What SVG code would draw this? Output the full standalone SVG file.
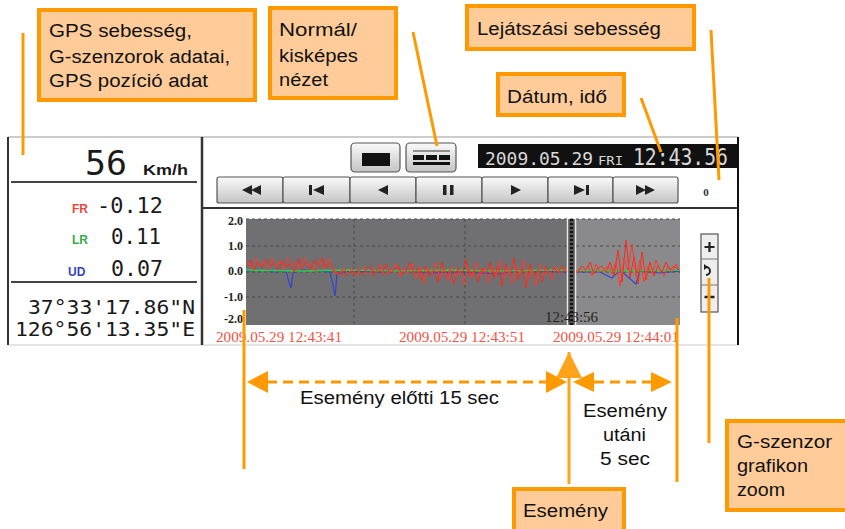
<svg xmlns="http://www.w3.org/2000/svg" width="845" height="529" viewBox="0 0 845 529">
<style>
.box{fill:#FFCC99;stroke:#FF9900;stroke-width:4}
.lbl{font-family:"Liberation Sans",Arial,sans-serif;font-size:18px;fill:#111}
.con{stroke:#FF9900;stroke-width:3;fill:none}
.dash{stroke:#FF9900;stroke-width:3;fill:none;stroke-dasharray:10 6}
.seg{font-family:"DejaVu Sans Mono",monospace;fill:#1a1a1a}
.btn{fill:url(#bg);stroke:#555;stroke-width:1.2}
.ico{fill:#222}
.ax{font-family:"Liberation Serif",serif;font-weight:bold;font-size:12px;fill:#222}
.xl{font-family:"Liberation Serif",serif;font-size:14px;fill:#f05545}
.grid{stroke:#4a4a4a;stroke-width:1;stroke-dasharray:3 3}
</style>
<defs>
<linearGradient id="bg" x1="0" y1="0" x2="0" y2="1">
<stop offset="0" stop-color="#fafafa"/><stop offset="1" stop-color="#c4c4c4"/>
</linearGradient>
<marker id="up" viewBox="0 0 26 26" refX="26" refY="13" markerWidth="26" markerHeight="26" markerUnits="userSpaceOnUse" orient="auto">
<path d="M0,0 L26,13 L0,26 z" fill="#FFA31A"/>
</marker>
</defs>
<rect width="845" height="529" fill="#fff"/>

<g id="screen">
<rect x="8" y="137" width="730" height="208" fill="#fff"/>
<line x1="8" y1="137" x2="738" y2="137" stroke="#bbb" stroke-width="1.5"/>
<line x1="8" y1="345" x2="738" y2="345" stroke="#ccc" stroke-width="1"/>
<line x1="8" y1="137" x2="8" y2="345" stroke="#333" stroke-width="2"/>
<line x1="202" y1="137" x2="202" y2="345" stroke="#333" stroke-width="2.5"/>
<line x1="738" y1="137" x2="738" y2="345" stroke="#111" stroke-width="2"/>
<line x1="202" y1="208" x2="738" y2="208" stroke="#333" stroke-width="2"/>

<g id="left-panel">
<text class="seg" x="85" y="175" font-size="34" textLength="42" lengthAdjust="spacingAndGlyphs">56</text>
<text x="143" y="175" font-family="Liberation Sans,Arial,sans-serif" font-weight="bold" font-size="15" fill="#1a1a1a" textLength="45" lengthAdjust="spacingAndGlyphs">Km/h</text>
<line x1="11" y1="182" x2="197" y2="182" stroke="#444" stroke-width="2"/>
<text x="72" y="213" font-family="Liberation Sans,Arial,sans-serif" font-weight="bold" font-size="12" fill="#e84a3a">FR</text>
<text class="seg" x="97" y="213" font-size="22" textLength="66" lengthAdjust="spacingAndGlyphs">-0.12</text>
<text x="72" y="244" font-family="Liberation Sans,Arial,sans-serif" font-weight="bold" font-size="12" fill="#3aaa4a">LR</text>
<text class="seg" x="111" y="244" font-size="22" textLength="50" lengthAdjust="spacingAndGlyphs">0.11</text>
<text x="68" y="276" font-family="Liberation Sans,Arial,sans-serif" font-weight="bold" font-size="12" fill="#3344bb">UD</text>
<text class="seg" x="111" y="276" font-size="22" textLength="52" lengthAdjust="spacingAndGlyphs">0.07</text>
<line x1="11" y1="282" x2="197" y2="282" stroke="#444" stroke-width="2"/>
<text class="seg" x="28" y="314" font-size="20" textLength="167" lengthAdjust="spacingAndGlyphs">37°33'17.86"N</text>
<text class="seg" x="15" y="336" font-size="20" textLength="180" lengthAdjust="spacingAndGlyphs">126°56'13.35"E</text>
</g>

<g id="view-buttons">
<rect class="btn" x="351" y="143" width="49" height="29" rx="4"/>
<rect x="362" y="153" width="28" height="13" fill="#111"/>
<rect class="btn" x="406" y="143" width="50" height="29" rx="4"/>
<line x1="413" y1="151" x2="450" y2="151" stroke="#333" stroke-width="1"/>
<rect x="413" y="155" width="11" height="5" fill="#111"/><rect x="426" y="155" width="11" height="5" fill="#111"/><rect x="439" y="155" width="11" height="5" fill="#111"/>
<rect x="413" y="162" width="37" height="3" fill="#111"/>
</g>

<g id="date-display">
<rect x="478" y="144" width="260" height="24" fill="#111"/>
<text x="485" y="165" font-family="DejaVu Sans Mono,monospace" font-size="17" fill="#d8d8d8" textLength="108" lengthAdjust="spacingAndGlyphs">2009.05.29</text>
<text x="598" y="165" font-family="DejaVu Sans Mono,monospace" font-size="13" fill="#d8d8d8" textLength="25" lengthAdjust="spacingAndGlyphs">FRI</text>
<text x="633" y="165" font-family="DejaVu Sans Mono,monospace" font-size="23" fill="#d8d8d8" textLength="95" lengthAdjust="spacingAndGlyphs">12:43.56</text>
</g>

<g id="transport">
<rect class="btn" x="217" y="177" width="66" height="26" rx="2"/>
<rect class="btn" x="283" y="177" width="67" height="26" rx="2"/>
<rect class="btn" x="350" y="177" width="66" height="26" rx="2"/>
<rect class="btn" x="416" y="177" width="66" height="26" rx="2"/>
<rect class="btn" x="482" y="177" width="66" height="26" rx="2"/>
<rect class="btn" x="548" y="177" width="65" height="26" rx="2"/>
<rect class="btn" x="613" y="177" width="65" height="26" rx="2"/>
<path class="ico" d="M242,190 L252,185 L252,195 z M251,190 L261,185 L261,195 z"/>
<path class="ico" d="M309,185 h3 v10 h-3 z M313,190 L324,185 L324,195 z"/>
<path class="ico" d="M378,190 L388,185 L388,195 z"/>
<path class="ico" d="M443,185 h3.5 v10 h-3.5 z M450,185 h3.5 v10 h-3.5 z"/>
<path class="ico" d="M511,185 L521,190 L511,195 z"/>
<path class="ico" d="M574,185 L585,190 L574,195 z M586,185 h3 v10 h-3 z"/>
<path class="ico" d="M636,185 L646,190 L636,195 z M645,185 L655,190 L645,195 z"/>
<text x="706" y="196" font-family="Liberation Serif,serif" font-weight="bold" font-size="11" fill="#333" text-anchor="middle">0</text>
</g>

<g id="graph">
<rect x="246" y="219" width="321" height="106" fill="#707072"/>
<rect x="567" y="219" width="113" height="106" fill="#8a8a8c"/>
<line class="grid" x1="246" y1="246" x2="680" y2="246"/>
<line class="grid" x1="246" y1="272" x2="680" y2="272"/>
<line class="grid" x1="246" y1="297" x2="680" y2="297"/>
<line class="grid" x1="354" y1="219" x2="354" y2="325"/>
<line class="grid" x1="465" y1="219" x2="465" y2="325"/>
<line class="grid" x1="246" y1="219" x2="680" y2="219"/>
<text class="ax" x="243" y="225" text-anchor="end">2.0</text>
<text class="ax" x="243" y="250" text-anchor="end">1.0</text>
<text class="ax" x="243" y="275" text-anchor="end">0.0</text>
<text class="ax" x="243" y="301" text-anchor="end">-1.0</text>
<text class="ax" x="243" y="323" text-anchor="end">-2.0</text>
<polyline fill="none" stroke="#3344cc" stroke-width="1.2" points="246,271 260,270 275,272 286,271 289,282 291,288 293,273 300,270 320,271 330,272 333,285 335,296 337,274 350,271 380,272 400,271 430,273 460,272 500,274 520,270 540,271 560,272 600,272 612,278 620,270 636,284 640,271 660,273 680,271"/>
<polyline fill="none" stroke="#33cc44" stroke-width="1.5" points="246,270 300,271 350,270 400,271 450,270 500,271 560,270 620,271 680,270"/>
<polyline fill="none" stroke="#ff2a1a" stroke-width="1" points="246,266 250,260 254,270 258,262 262,268 266,259 270,266 274,263 278,270 282,261 286,267 290,264 294,272 298,259 302,268 306,262 310,270 314,260 318,266 322,258 326,268 330,262 334,272 338,274 342,270 346,276 350,271 354,274 358,269 362,275 366,270 370,266 374,276 378,268 382,273 386,264 390,274 394,270 398,266 402,275 406,271 410,262 414,274 418,268 422,280 426,266 430,276 434,270 438,282 442,262 446,277 450,270 454,284 458,268 462,275 466,259 470,276 474,270 478,282 482,268 486,274 490,262 494,278 498,266 502,286 506,264 510,276 514,258 518,280 522,268 526,288 530,264 534,276 538,270 542,282 546,266 550,274 554,268 558,272 562,266 566,272 570,270 574,268 578,272 582,266 586,270 590,262 594,274 598,268 602,266 606,272 610,262 614,276 618,250 622,282 626,240 630,278 634,256 638,284 642,252 646,280 650,262 654,276 658,266 662,272 666,262 670,270 674,266 678,270"/>
<polyline fill="none" stroke="#ff3a2a" stroke-width="1" points="248,262 252,268 256,258 260,266 264,261 268,270 272,258 276,267 280,260 284,269 288,258 292,266 296,262 300,270 304,257 308,266 312,263 316,271 320,260 324,269 328,258 332,268 336,271 340,276 344,268 348,274 352,268 356,277 360,270 364,266 368,275 372,269 376,272 380,264 384,276 388,268 392,272 396,263 400,277 404,268 408,274 412,264 416,279 420,266 424,284 428,268 432,274 436,262 440,278 444,268 448,281 452,266 456,276 460,270 464,285 468,266 472,278 476,262 480,276 484,268 488,283 492,266 496,276 500,260 504,278 508,268 512,284 516,266 520,274 524,260 528,280 532,268 536,286 540,264 544,276 548,270 552,280 556,266 560,274 564,268 568,272 572,266 576,274 580,268 584,272 588,266 592,276 596,264 600,272 604,270 608,266 612,274 616,262 620,286 624,258 628,270 632,244 636,276 640,260 644,282 648,266 652,274 656,260 660,270 664,276 668,266 672,272 676,264 679,270"/>
<rect x="567" y="219" width="9" height="106" fill="#555"/>
<line x1="567.5" y1="219" x2="567.5" y2="325" stroke="#e6e6e6" stroke-width="1.5"/>
<line x1="575.5" y1="219" x2="575.5" y2="325" stroke="#e6e6e6" stroke-width="1.5"/>
<line x1="571.5" y1="219" x2="571.5" y2="325" stroke="#111" stroke-width="3" stroke-dasharray="2 2"/>
<text x="545" y="322" font-family="Liberation Serif,serif" font-size="14" fill="#222" textLength="53" lengthAdjust="spacingAndGlyphs">12:43:56</text>
<text class="xl" x="216" y="342" textLength="126" lengthAdjust="spacingAndGlyphs">2009.05.29 12:43:41</text>
<text class="xl" x="399" y="342" textLength="126" lengthAdjust="spacingAndGlyphs">2009.05.29 12:43:51</text>
<text class="xl" x="553" y="342" textLength="126" lengthAdjust="spacingAndGlyphs">2009.05.29 12:44:01</text>
</g>

<g id="zoom-control">
<rect x="701" y="234" width="17" height="78" fill="#eee" stroke="#555" stroke-width="1.2"/>
<line x1="701" y1="259" x2="718" y2="259" stroke="#777"/>
<line x1="701" y1="285" x2="718" y2="285" stroke="#777"/>
<path d="M709.5,242 v10 M704.5,247 h10" stroke="#222" stroke-width="2.2"/>
<path d="M706,267 A4,4 0 1 1 706,275" fill="none" stroke="#222" stroke-width="2"/>
<path d="M704,264 L708,267 L704,270 z" fill="#222"/>
<path d="M704.5,297 h10" stroke="#222" stroke-width="2.5"/>
</g>
</g>

<g id="connectors">
<line class="con" x1="23" y1="33" x2="23" y2="155"/>
<line class="con" x1="413" y1="32" x2="437" y2="146"/>
<line class="con" x1="711" y1="30" x2="719" y2="180"/>
<line class="con" x1="641" y1="98" x2="661" y2="152"/>
<line class="con" x1="244" y1="310" x2="244" y2="469"/>
<line class="con" x1="677" y1="318" x2="677" y2="482"/>
<line class="con" x1="709" y1="278" x2="709" y2="443"/>
<line stroke="#FFA31A" stroke-width="3" x1="569" y1="484" x2="569" y2="352" marker-end="url(#up)"/>
<line class="dash" x1="267" y1="382" x2="546" y2="382"/>
<path d="M247,382 L268,371 L268,393 z M567,382 L546,371 L546,393 z" fill="#FF9900"/>
<line class="dash" x1="594" y1="382" x2="652" y2="382"/>
<path d="M573,382 L594,372 L594,392 z M672,382 L651,372 L651,392 z" fill="#FF9900"/>
</g>

<g id="label-gps">
<rect class="box" x="39" y="10" width="216" height="90"/>
<text class="lbl" x="49" y="37" textLength="143" lengthAdjust="spacingAndGlyphs">GPS sebesség,</text>
<text class="lbl" x="49" y="63" textLength="181" lengthAdjust="spacingAndGlyphs">G-szenzorok adatai,</text>
<text class="lbl" x="49" y="87" textLength="159" lengthAdjust="spacingAndGlyphs">GPS pozíció adat</text>
</g>
<g id="label-normal">
<rect class="box" x="270" y="8" width="126" height="90"/>
<text class="lbl" x="279" y="36" textLength="78" lengthAdjust="spacingAndGlyphs">Normál/</text>
<text class="lbl" x="279" y="62" textLength="79" lengthAdjust="spacingAndGlyphs">kisképes</text>
<text class="lbl" x="279" y="86" textLength="49" lengthAdjust="spacingAndGlyphs">nézet</text>
</g>
<g id="label-speed">
<rect class="box" x="467" y="6" width="227" height="43"/>
<text class="lbl" x="477" y="35" textLength="184" lengthAdjust="spacingAndGlyphs">Lejátszási sebesség</text>
</g>
<g id="label-date">
<rect class="box" x="498" y="74" width="126" height="41"/>
<text class="lbl" x="507" y="103" textLength="100" lengthAdjust="spacingAndGlyphs">Dátum, idő</text>
</g>
<g id="label-event">
<rect class="box" x="514" y="489" width="110" height="46"/>
<text class="lbl" x="523" y="517" textLength="85" lengthAdjust="spacingAndGlyphs">Esemény</text>
</g>
<g id="label-zoom">
<rect class="box" x="727" y="421" width="120" height="89"/>
<text class="lbl" x="737" y="448" textLength="95" lengthAdjust="spacingAndGlyphs">G-szenzor</text>
<text class="lbl" x="737" y="472" textLength="71" lengthAdjust="spacingAndGlyphs">grafikon</text>
<text class="lbl" x="737" y="496" textLength="48" lengthAdjust="spacingAndGlyphs">zoom</text>
</g>
<g id="label-before">
<text class="lbl" x="300" y="404" textLength="199" lengthAdjust="spacingAndGlyphs">Esemény előtti 15 sec</text>
</g>
<g id="label-after">
<text class="lbl" x="583" y="417" textLength="84" lengthAdjust="spacingAndGlyphs">Esemény</text>
<text class="lbl" x="603" y="441" textLength="43" lengthAdjust="spacingAndGlyphs">utáni</text>
<text class="lbl" x="600" y="465" textLength="50" lengthAdjust="spacingAndGlyphs">5 sec</text>
</g>
</svg>
